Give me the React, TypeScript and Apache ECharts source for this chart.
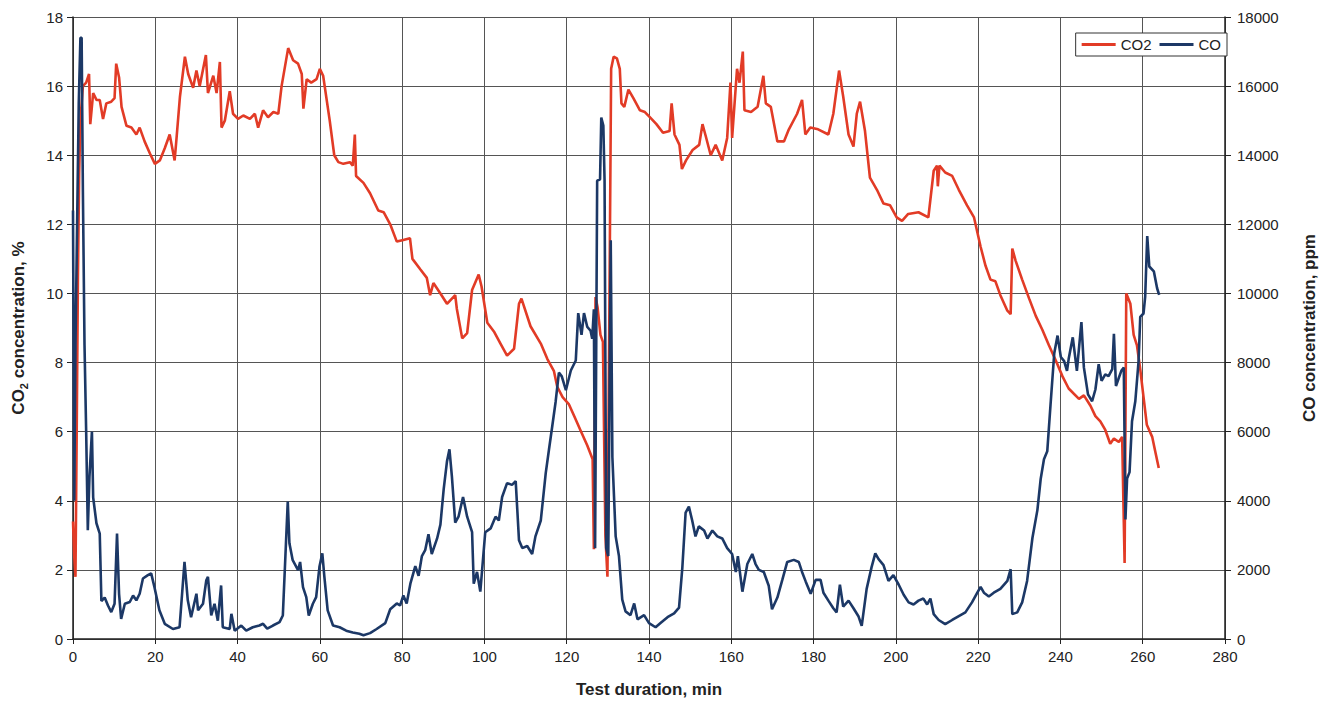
import React, { useEffect, useRef } from "react";
import * as echarts from "echarts";

const co2Time = [0,0.3,0.6,0.9,1.2,1.5,1.8,2.4,3.2,3.9,4.2,4.9,5.7,6.5,7.3,8.1,9.3,10.1,10.5,11.2,11.8,13,14.2,15.4,16.2,17.4,18.7,19.9,21.1,22.3,23.5,24.7,25.1,26,27.2,28,29.2,30,30.8,32.3,32.8,34.1,34.9,35.7,36.1,36.9,38.1,38.9,40.1,41.4,43,44.2,45,46.2,47.4,48.7,49.9,50.7,52.3,53.5,54.7,55.6,56,56.8,57.9,59.2,60,60.8,62.4,63.5,64.5,65.7,67.3,68,68.5,68.8,70.6,72.2,74.2,75.5,77.1,78.7,80.3,81.9,82.5,84.4,86,86.8,87.6,89.3,90.9,92.9,93.3,94.6,95.8,97,98.6,99.3,100.7,102.3,103.9,105.5,107.2,108.4,109,111.2,113.7,115.3,116.9,117.7,119,120.5,122,123.5,125,126.3,126.6,127,127.5,128.2,128.8,129.4,129.9,130.4,130.8,131.4,132.2,132.9,133.3,134,135,136.2,137.8,139,140.2,141.8,143.4,145,145.5,146.2,147.4,148,149,150.6,152.2,153,153.8,155,156.2,157.8,159,159.8,160.2,161.4,162,162.8,163.2,164.8,166.4,167.8,168.4,169.6,171.2,172.8,174,176,177.2,178,179.2,181.1,183.6,184.8,186.2,187.2,188.5,189.7,190.5,191.3,192.5,193.7,195.4,197,198.6,200.2,201.5,203,205.5,207.9,209.2,210,210.2,210.6,212,213.7,215.3,217.3,219,220.6,221.8,223,224.2,225.4,227.1,227.9,228.3,229.1,230.7,232.4,234,235.6,237.2,238.9,240.5,242,244.5,245.7,247.3,248.5,249.7,250.9,252.1,253,254.2,255,255.6,256,257,257.8,258.6,259.4,260.2,261,262.3,263.1,263.9];
const co2Values = [3.4,2.4,1.8,6.0,10.5,13.5,15.0,16.0,16.1,16.35,14.9,15.8,15.6,15.6,15.05,15.5,15.55,15.65,16.65,16.25,15.4,14.85,14.8,14.6,14.8,14.4,14.05,13.75,13.85,14.2,14.6,13.85,14.4,15.7,16.85,16.35,15.95,16.45,16.0,16.9,15.8,16.3,15.8,16.7,14.8,15.0,15.85,15.2,15.05,15.15,15.05,15.2,14.8,15.3,15.1,15.25,15.2,16.0,17.1,16.75,16.65,16.35,15.35,16.2,16.1,16.2,16.5,16.3,15.0,14.0,13.8,13.75,13.8,13.7,14.6,13.4,13.2,12.9,12.4,12.35,12.0,11.5,11.55,11.6,11.0,10.7,10.45,9.95,10.3,10.0,9.7,9.95,9.55,8.7,8.85,10.1,10.55,10.2,9.15,8.9,8.55,8.2,8.4,9.7,9.85,9.05,8.55,8.1,7.75,7.3,7.0,6.8,6.4,6.0,5.6,5.2,2.6,9.9,9.6,8.8,8.6,3.0,1.8,10.0,16.5,16.85,16.8,16.5,15.5,15.4,15.9,15.65,15.3,15.25,15.1,14.9,14.65,14.7,15.5,14.6,14.3,13.6,13.85,14.15,14.3,14.9,14.55,14.0,14.3,13.85,14.5,16.1,14.5,16.5,16.1,17.0,15.3,15.25,15.4,16.3,15.5,15.4,14.4,14.4,14.75,15.2,15.6,14.6,14.8,14.75,14.6,15.2,16.45,15.7,14.6,14.25,15.2,15.55,14.7,13.35,13.0,12.6,12.55,12.2,12.1,12.3,12.35,12.2,13.55,13.7,13.1,13.7,13.5,13.4,13.0,12.55,12.2,11.35,10.8,10.4,10.35,9.95,9.5,9.4,11.3,10.95,10.4,9.85,9.35,8.95,8.5,8.05,7.6,7.25,6.95,7.05,6.75,6.45,6.3,6.05,5.65,5.8,5.7,5.85,2.2,10.0,9.7,8.8,8.5,7.8,7.0,6.2,5.85,5.4,4.95];

const coTime = [0,0.3,0.6,1.0,1.4,1.8,2.1,2.4,2.8,3.2,3.6,4.0,4.6,4.9,5.7,6.5,6.9,7.7,8.5,9.3,10.1,10.7,11.2,11.7,12.6,13.8,14.6,15.4,16.2,17,18.2,19,19.8,21,22.3,24.3,25.9,27.1,27.9,28.7,30,30.4,31.6,32.4,32.8,33.6,34.4,35.2,36,36.4,38.1,38.5,39.3,40.9,42.1,43.7,45.3,46.2,47.2,48.6,50.2,51,52.2,52.6,53.4,54.7,55.2,55.9,56.7,57.3,58.3,59.1,59.9,60.6,61.1,61.9,63.2,64.8,66.4,68,69.6,70.6,72.2,73.8,75.9,77.1,78.7,79.5,80.3,81.1,82,83.2,84,84.8,85.6,86.4,87.2,88.5,89.3,90.1,90.9,91.5,92.1,92.9,93.7,94.8,95.8,97,97.4,98.2,99,100.2,101.5,102.7,103.5,104.3,105.5,106.7,107.6,108.4,109.2,110.4,111.6,112.4,113.7,114.9,115.7,116.5,117.3,118.1,118.8,119.8,121,122.2,122.8,123.6,124.2,125,125.8,126.2,126.6,126.9,127.4,128.1,128.4,128.9,129.2,129.6,130.1,130.7,131.1,131.9,132.7,133.5,134.3,135.5,136.4,137.2,138.8,140,141.6,142.8,144.5,146.1,147.3,148.1,148.9,149.7,150.5,151.3,152.1,153.4,154.2,155.4,156.6,157.8,159,160.2,161.1,161.6,162.7,163.9,165.1,165.9,166.7,167.9,169.1,169.9,171.2,172.4,173.6,175.2,176.4,177.2,178.1,179.3,180.5,181.7,182.4,183.6,184.8,185.6,186.4,187.2,188.5,189.7,190.9,191.7,192.9,194.1,195,195.8,197,198.2,199.4,200.7,201.9,203.1,204.3,205.5,206.7,207.6,208.4,209.2,210.4,212,213.7,215.3,216.9,218.5,219.8,220.6,221.4,222.6,223.8,225.4,227.1,227.9,228.3,229.5,230.7,231.9,233.2,234.4,235.2,236,236.8,237.6,238.5,239.3,240.1,240.9,241.6,242,243,244,245.1,245.7,246.7,247.7,248.5,249.3,250,250.9,251.7,252.6,253,253.5,254.2,254.8,255.4,255.8,256.2,256.8,257.4,258.2,259,259.4,260.2,260.6,261.1,261.6,262.7,263.5,264];
const coValues = [12400,4000,8500,12000,15500,17400,17400,13000,8500,6000,3150,4700,6000,4100,3350,3050,1100,1200,970,780,1020,3050,1300,580,1020,1070,1260,1120,1310,1750,1850,1900,1500,830,440,290,340,2230,1120,630,1310,830,1020,1700,1800,680,1020,530,1550,340,290,730,240,390,240,340,390,440,300,390,490,680,3980,2770,2280,1990,2230,1500,1210,680,1020,1210,2090,2480,1800,830,390,340,240,190,150,110,170,290,460,860,1030,970,1260,1030,1600,2110,1830,2400,2570,3030,2460,2910,3310,4340,5140,5490,4690,3370,3540,4110,3540,3090,1600,1940,1370,3090,3200,3540,3430,4110,4510,4460,4570,2860,2630,2690,2460,2970,3430,4800,5490,6170,6860,7710,7600,7200,7770,8060,9430,8800,9430,9030,8920,8690,9540,2630,13260,13300,15090,14860,13260,2630,2400,11540,5260,2970,2400,1140,800,690,1030,570,690,460,340,460,630,740,910,2060,3660,3830,3430,2970,3260,3140,2910,3140,2970,2910,2630,2460,1940,2400,1370,2170,2460,2170,2000,1940,1540,860,1200,1710,2230,2290,2230,1940,1660,1310,1710,1710,1340,1110,890,770,1570,940,1110,890,660,380,1450,2080,2480,2310,2140,1680,1850,1570,1280,1060,1000,1110,1170,1000,1170,720,550,430,550,660,770,1060,1340,1510,1340,1230,1340,1450,1680,2020,720,770,1060,1680,2930,3730,4630,5200,5430,6790,8270,8780,8160,8040,7760,8100,8730,7760,9170,7860,7080,6880,7220,7950,7470,7660,7610,7810,8830,7320,7560,7760,7860,3460,4640,4830,6300,6880,8050,9320,9420,9910,11660,10780,10640,10150,9960];

const FONT = "'Liberation Sans', Arial, sans-serif";

export default function App() {
  const ref = useRef<HTMLDivElement>(null);
  useEffect(() => {
    if (!ref.current) return;
    const chart = echarts.init(ref.current, null, { renderer: "svg" });
    const co2Data = co2Time.map((t, i) => [t, co2Values[i]]);
    const coData = coTime.map((t, i) => [t, coValues[i]]);
    const axisLabel = { color: "#222", fontSize: 15, fontFamily: FONT };
    const gridLine = { show: true, lineStyle: { color: "#555", width: 1 } };
    chart.setOption({
      animation: false,
      backgroundColor: "#fff",
      grid: { left: 73, right: 105, top: 17, bottom: 70 },
      legend: {
        right: 103,
        top: 33,
        orient: "horizontal",
        icon: "rect",
        itemWidth: 34,
        itemHeight: 3,
        itemGap: 8,
        padding: [4, 6, 4, 6],
        borderColor: "#333",
        borderWidth: 1,
        borderRadius: 0,
        backgroundColor: "#fff",
        textStyle: { color: "#222", fontSize: 15, fontFamily: FONT },
        data: ["CO2", "CO"],
      },
      xAxis: {
        type: "value",
        min: 0,
        max: 280,
        interval: 20,
        name: "Test duration, min",
        nameLocation: "middle",
        nameGap: 42,
        nameTextStyle: { color: "#222", fontSize: 17, fontWeight: "bold", fontFamily: FONT },
        axisLine: { show: true, onZero: false, lineStyle: { color: "#222", width: 1.5 } },
        axisTick: { show: true, length: 5, lineStyle: { color: "#222" } },
        axisLabel: { ...axisLabel, margin: 10 },
        splitLine: gridLine,
      },
      yAxis: [
        {
          type: "value",
          min: 0,
          max: 18,
          interval: 2,
          position: "left",
          name: "{a|CO}{b|2}{a| concentration, %}",
          nameLocation: "middle",
          nameGap: 44,
          nameRotate: 90,
          nameTextStyle: {
            rich: {
              a: { color: "#222", fontSize: 17, fontWeight: "bold", fontFamily: FONT },
              b: { color: "#222", fontSize: 11, fontWeight: "bold", fontFamily: FONT, padding: [10, 0, 0, 0] },
            },
          },
          axisLine: { show: true, lineStyle: { color: "#222", width: 1.5 } },
          axisTick: { show: true, length: 6, lineStyle: { color: "#222" } },
          axisLabel: { ...axisLabel, margin: 10 },
          splitLine: gridLine,
        },
        {
          type: "value",
          min: 0,
          max: 18000,
          interval: 2000,
          position: "right",
          name: "CO concentration, ppm",
          nameLocation: "middle",
          nameGap: 76,
          nameRotate: 90,
          nameTextStyle: { color: "#222", fontSize: 17, fontWeight: "bold", fontFamily: FONT },
          axisLine: { show: true, lineStyle: { color: "#222", width: 1.5 } },
          axisTick: { show: true, length: 6, lineStyle: { color: "#222" } },
          axisLabel: { ...axisLabel, margin: 12, formatter: (v: number) => String(v) },
          splitLine: { show: false },
        },
      ],
      series: [
        {
          name: "CO2",
          type: "line",
          yAxisIndex: 0,
          data: co2Data,
          symbol: "none",
          lineStyle: { color: "#e23b26", width: 2.6 },
          itemStyle: { color: "#e23b26" },
        },
        {
          name: "CO",
          type: "line",
          yAxisIndex: 1,
          data: coData,
          symbol: "none",
          lineStyle: { color: "#1c3866", width: 2.6 },
          itemStyle: { color: "#1c3866" },
        },
      ],
    });
    return () => chart.dispose();
  }, []);
  return (
    <div
      ref={ref}
      style={{ position: "fixed", left: 0, top: 0, width: 1330, height: 709, background: "#fff" }}
    />
  );
}
